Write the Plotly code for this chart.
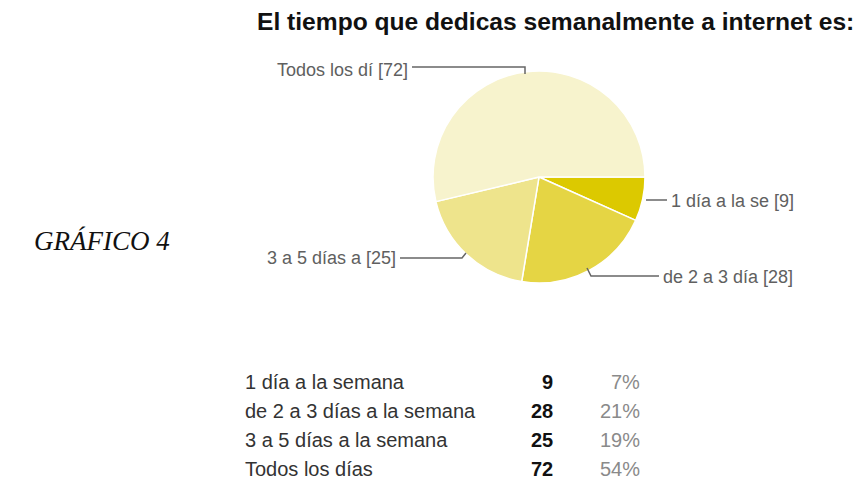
import plotly.graph_objects as go

W, H = 861, 495

categories = ["1 día a la semana", "de 2 a 3 días a la semana", "3 a 5 días a la semana", "Todos los días"]
short_labels = ["1 día a la se", "de 2 a 3 día", "3 a 5 días a", "Todos los dí"]
counts = [9, 28, 25, 72]
percents = ["7%", "21%", "19%", "54%"]
colors = ["#dcc900", "#e5d544", "#eee48c", "#f7f3cd"]
title = "El tiempo que dedicas semanalmente a internet es:"
side_label = "GRÁFICO 4"

def px(x):
    return x / W

def py(y):
    return 1 - y / H

cx, cy, r = 539, 177, 106

fig = go.Figure()
fig.add_trace(go.Pie(
    labels=categories, values=counts, sort=False, direction="clockwise", rotation=90,
    textinfo="none", hoverinfo="label+value+percent",
    marker=dict(colors=colors, line=dict(color="white", width=1.5)),
    domain=dict(x=[px(cx - r), px(cx + r)], y=[py(cy + r), py(cy - r)]),
    showlegend=False,
))

ann = []
shapes = []
lc = "#666666"

def line(pts):
    path = "M " + " L ".join(f"{px(x)},{py(y)}" for x, y in pts)
    shapes.append(dict(type="path", path=path, xref="paper", yref="paper",
                       line=dict(color=lc, width=1.5)))

lab_font = dict(family="Liberation Sans, Arial", size=18, color="#606060")
pie_lab = [
    (3, 410, 70, "right", [(412, 67), (525, 67), (525, 74)]),
    (0, 669, 201, "left", [(646, 200), (667, 200)]),
    (1, 661, 277, "left", [(587, 268), (591, 276), (659, 276)]),
    (2, 398, 258, "right", [(400, 258), (462, 258), (466, 253)]),
]
for i, x, y, xa, pts in pie_lab:
    ann.append(dict(text=f"{short_labels[i]} [{counts[i]}]", x=px(x), y=py(y), xref="paper", yref="paper",
                    xanchor=xa, yanchor="middle", showarrow=False, font=lab_font))
    line(pts)

row_y = [382, 411, 440, 469]
for i, y in enumerate(row_y):
    ann.append(dict(text=categories[i], x=px(243), y=py(y), xref="paper", yref="paper",
                    xanchor="left", yanchor="middle", showarrow=False,
                    font=dict(family="Liberation Sans, Arial", size=20, color="#333333")))
    ann.append(dict(text=f"<b>{counts[i]}</b>", x=px(555), y=py(y), xref="paper", yref="paper",
                    xanchor="right", yanchor="middle", showarrow=False,
                    font=dict(family="Liberation Sans, Arial", size=20, color="#111111")))
    ann.append(dict(text=percents[i], x=px(642), y=py(y), xref="paper", yref="paper",
                    xanchor="right", yanchor="middle", showarrow=False,
                    font=dict(family="Liberation Sans, Arial", size=20, color="#8a8a8a")))

ann.append(dict(text=f"<b>{title}</b>", x=px(255), y=py(21), xref="paper", yref="paper",
                xanchor="left", yanchor="middle", showarrow=False,
                font=dict(family="Liberation Sans, Arial", size=24.6, color="#111111")))
ann.append(dict(text=f"<i>{side_label}</i>", x=px(172), y=py(241), xref="paper", yref="paper",
                xanchor="right", yanchor="middle", showarrow=False,
                font=dict(family="Liberation Serif, Times New Roman", size=27, color="#111111")))

fig.update_layout(width=W, height=H, margin=dict(l=0, r=0, t=0, b=0),
                  paper_bgcolor="white", plot_bgcolor="white",
                  annotations=ann, shapes=shapes)
fig.write_html("out.html", config={"displayModeBar": False},
               post_script="document.body.style.margin='0px';")
